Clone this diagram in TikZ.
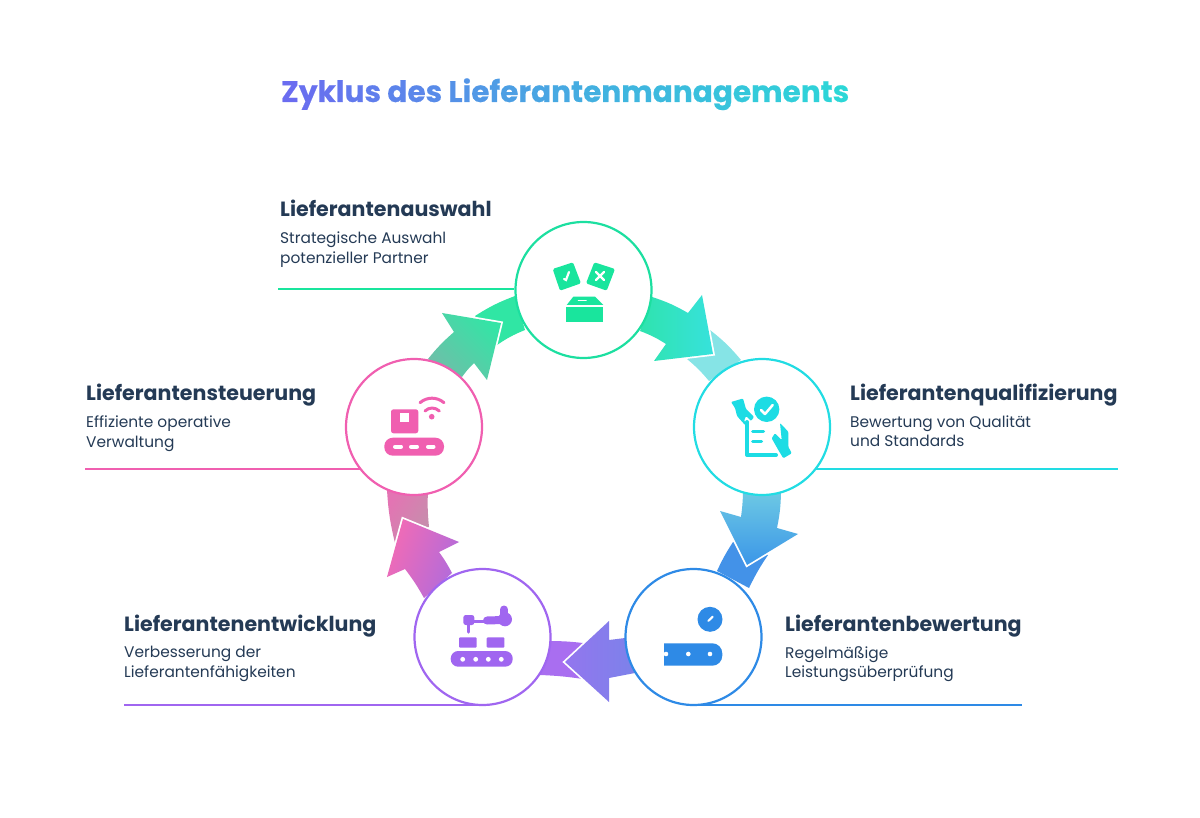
\documentclass[tikz,border=0pt]{standalone}
\usepackage{fontspec}
\setmainfont{Poppins}
\newfontfamily\titlefont[BoldFeatures={FakeBold=0.5}]{Poppins}
\definecolor{inkdark}{HTML}{243A55}
\definecolor{titlestart}{HTML}{6A6CF0}
\definecolor{titleend}{HTML}{2ED4D8}
\definecolor{stepgreen}{HTML}{1CDFA0}
\definecolor{stepcyan}{HTML}{22DCE3}
\definecolor{stepblue}{HTML}{2E8AE6}
\definecolor{steppurple}{HTML}{A066F0}
\definecolor{steppink}{HTML}{F05FB0}
\definecolor{iconcyan}{HTML}{1CDCE4}
\definecolor{icongreen}{HTML}{19E59D}
\definecolor{bandmint}{HTML}{2FE3AE}
\definecolor{bandaqua}{HTML}{37E2DC}
\definecolor{tailaqua}{HTML}{86E4E6}
\definecolor{bandsky}{HTML}{6CC8E4}
\definecolor{bandazure}{HTML}{3B96E8}
\definecolor{tailazure}{HTML}{4392E8}
\definecolor{bandviolet}{HTML}{9376EE}
\definecolor{bandperi}{HTML}{7C82EA}
\definecolor{tailviolet}{HTML}{A96EF0}
\definecolor{bandrose}{HTML}{F26BB5}
\definecolor{bandorchid}{HTML}{B06BDC}
\definecolor{taildust}{HTML}{C58FAC}
\definecolor{tailrose}{HTML}{E374B3}
\definecolor{bandsage}{HTML}{6EBFA8}
\definecolor{bandspring}{HTML}{34E4A6}
\definecolor{tailspring}{HTML}{30E6A4}
\tikzset{
  stepnode/.style={circle,draw,fill=white,line width=2.2pt,minimum size=136pt,inner sep=0pt},
  headlbl/.style={anchor=base west,inner sep=0pt,text=inkdark,font=\fontsize{20.6}{24}\selectfont\bfseries},
  sublbl/.style={anchor=base west,inner sep=0pt,text=inkdark,font=\fontsize{15.4}{20}\selectfont},
  leader/.style={line width=2pt},
  headband/.style={preaction={draw=white,line width=3.5pt,miter limit=10}},
}
\newcommand{\gradtitle}{\foreach[count=\n] \ch in {Z,y,k,l,u,s,{\ },d,e,s,{\ },L,i,e,f,e,r,a,n,t,e,n,m,a,n,a,g,e,m,e,n,t,s}{\pgfmathtruncatemacro{\pct}{100-(\n-1)*100/31}\textcolor{titlestart!\pct!titleend}{\ch}}}
\begin{document}
\begin{tikzpicture}[x=1pt,y=-1pt]
  \useasboundingbox (0,0) rectangle (1200,818);
  \node[anchor=base west,inner sep=0pt,font=\fontsize{29.6}{36}\selectfont\titlefont\bfseries] (title) at (281,102) {\gradtitle};
  % tails
  \fill[tailaqua] (710,330) to[bend left=6] (741,360) -- (709,381) to[bend right=5] (687,359) -- cycle;
  \fill[tailazure] (733,542) to[bend right=4] (717,571) -- (749,588) to[bend left=4] (768,555) -- cycle;
  \fill[tailviolet] (583,643) to[bend right=3] (550,641) -- (540,675) to[bend left=3] (583,679) -- cycle;
  \shade[left color=tailrose,right color=taildust,shading angle=60] (395,543) to[bend left=5] (387,490) -- (428,490) to[bend right=4] (429,527) -- cycle;
  \fill[tailspring] (475,316) to[bend left=6] (515,296) -- (525,330) to[bend right=6] (497,345) -- cycle;
  % arrows
  \shade[headband,left color=bandmint,right color=bandaqua] (652,297) to[bend left=6] (688,313) -- (702,295) -- (713,354) -- (654,361) -- (666,344) to[bend right=6] (640,331) -- cycle;
  \shade[headband,top color=bandsky,bottom color=bandazure] (781,493) to[bend left=5] (777,528) -- (798,534) -- (747,565) -- (720,511) -- (741,517) to[bend right=3] (743,493) -- cycle;
  \shade[headband,left color=bandviolet,right color=bandperi] (625,638) -- (609,640) -- (609,621) -- (565,662) -- (609,702) -- (609,678) -- (635,673) -- cycle;
  \shade[headband,left color=bandrose,right color=bandorchid,shading angle=70] (452,573) to[bend right=4] (439,552) -- (459,542) -- (403,519) -- (387,577) -- (405,569) to[bend left=4] (424,598) -- cycle;
  \shade[headband,left color=bandsage,right color=bandspring,shading angle=135] (428,359) to[bend left=5] (454,332) -- (442,313) -- (501,323) -- (487,380) -- (474,363) to[bend right=5] (462,377) -- cycle;
  % steps
  \node[stepnode,draw=stepgreen] (stepA) at (583.5,290) {};
  \node[stepnode,draw=stepcyan] (stepB) at (762,427) {};
  \node[stepnode,draw=stepblue] (stepC) at (693.5,637) {};
  \node[stepnode,draw=steppurple] (stepD) at (482.5,637) {};
  \node[stepnode,draw=steppink] (stepE) at (414,427) {};
  % leader lines
  \coordinate (endA) at (278,289);
  \coordinate (endB) at (1118,469);
  \coordinate (endC) at (1022,705);
  \coordinate (endD) at (124,705);
  \coordinate (endE) at (85,469);
  \draw[leader,icongreen] (endA) -- (stepA.west |- endA);
  \draw[leader,stepcyan] (stepB.-38 |- endB) -- (endB);
  \draw[leader,stepblue] (stepC.south |- endC) -- (endC);
  \draw[leader,steppurple] (endD) -- (stepD.south |- endD);
  \draw[leader,steppink] (endE) -- (stepE.218 |- endE);
  % labels
  \node[headlbl] (headA) at (280,217) {Lieferantenauswahl};
  \node[sublbl] (subAa) at (280,244) {Strategische Auswahl};
  \node[sublbl] (subAb) at (280,264) {potenzieller Partner};
  \node[headlbl] (headB) at (850,400) {Lieferantenqualifizierung};
  \node[sublbl] (subBa) at (850,427) {Bewertung von Qualität};
  \node[sublbl] (subBb) at (850,446) {und Standards};
  \node[headlbl] (headC) at (785,631) {Lieferantenbewertung};
  \node[sublbl] (subCa) at (785,658) {Regelmäßige};
  \node[sublbl] (subCb) at (785,677) {Leistungsüberprüfung};
  \node[headlbl] (headD) at (124,631) {Lieferantenentwicklung};
  \node[sublbl] (subDa) at (124,657) {Verbesserung der};
  \node[sublbl] (subDb) at (124,677) {Lieferantenfähigkeiten};
  \node[headlbl] (headE) at (86,400) {Lieferantensteuerung};
  \node[sublbl] (subEa) at (86,428) {Effiziente operative};
  \node[sublbl] (subEb) at (86,447) {Verwaltung};
  % icon green
  \fill[icongreen,rounded corners=1.5pt] (552.7,269) -- (573,262.3) -- (581,283.3) -- (560,290.7) -- cycle;
  \fill[icongreen,rounded corners=1.5pt] (594.3,262.3) -- (615,269) -- (606.7,290.7) -- (586,283.3) -- cycle;
  \draw[white,line width=2.2pt,line cap=round] (564,279) -- (566,280) -- (569,272);
  \draw[white,line width=2.4pt,line cap=round] (596,272) -- (604,280) (604,272) -- (596,280);
  \fill[icongreen] (573.3,296.7) -- (595,296.7) -- (603.3,305) -- (566.7,305) -- cycle;
  \draw[white,line width=1.6pt,line cap=round] (578.5,300.7) -- (586,300.7);
  \fill[icongreen] (566,307.3) rectangle (603.3,321.7);
  % icon cyan
  \fill[iconcyan] (766.7,409.3) circle[radius=12.7];
  \draw[white,line width=2.5pt,line cap=round,line join=round] (761,410) -- (765,414) -- (772.7,405);
  \draw[iconcyan,line width=4pt,line cap=round,line join=round] (747,422) -- (747,455) -- (776,455);
  \draw[iconcyan,line width=3pt,line cap=round] (752.5,431.7) -- (763.5,431.7) (752.5,441.7) -- (761.5,441.7);
  \fill[iconcyan,rounded corners=1pt] (731,402) -- (743,398.5) -- (746,409) -- (754,417) -- (751,421) -- (746,416) -- (744,421) -- (749,425) -- (745,425) -- (737,416) -- (735,408) -- cycle;
  \fill[iconcyan,rounded corners=1pt] (780,423) -- (788.3,431.7) -- (788.3,446.7) -- (791.7,453.3) -- (783.3,458.3) -- (778.3,450) -- (771.7,438.3) -- (775,433.3) -- (781.7,440) -- cycle;
  % icon blue
  \fill[stepblue] (710,619.3) circle[radius=12.5];
  \draw[white,line width=2pt,line cap=round] (708.3,621) -- (712.7,616.7);
  \fill[stepblue,rounded corners=10pt] (664,643.3) [sharp corners] -- (664,665.7) [rounded corners=10pt] -- (722.3,665.7) -- (722.3,643.3) [sharp corners] -- cycle;
  \fill[white] (666,654) circle[radius=2.3] (688.3,654) circle[radius=2.3] (710,654) circle[radius=2.3];
  % icon purple
  \fill[steppurple,rounded corners=7.5pt] (450.7,651) rectangle (512.7,666.7);
  \fill[white] (462.7,659.3) circle[radius=2.4] (475.7,659.3) circle[radius=2.4] (488.3,659.3) circle[radius=2.4] (501.3,659.3) circle[radius=2.4];
  \fill[steppurple,rounded corners=1pt] (459,637.3) rectangle (476.7,647.7) (486.7,637.3) rectangle (504.3,647.7);
  \fill[steppurple,rounded corners=2.5pt] (463.3,615) rectangle (474.3,625);
  \draw[steppurple,line width=3.5pt,line cap=round] (468.3,625) -- (468.3,632);
  \draw[steppurple,line width=3pt] (473,621.7) -- (486,621.7);
  \draw[steppurple,line width=8pt,line cap=round] (487,620.5) -- (503,620);
  \fill[steppurple] (505,619.3) circle[radius=7];
  \draw[steppurple,line width=8pt,line cap=round] (504,609.5) -- (504,617);
  % icon pink
  \fill[steppink,rounded corners=8.5pt] (384.3,437.7) rectangle (444,455.7);
  \draw[white,line width=4pt,line cap=round] (395,446.7) -- (401,446.7) (411,446.7) -- (417,446.7) (428,446.7) -- (433.5,446.7);
  \fill[steppink,rounded corners=2.5pt] (391,409.3) rectangle (418.3,433.3);
  \fill[white] (400,412.7) rectangle (409,421.7);
  \fill[steppink] (431.7,416.7) circle[radius=2.8];
  \draw[steppink,line width=3pt,line cap=round] (425,411) to[bend left=45] (439.3,411) (420,402.7) to[bend left=40] (444,402.7);
\end{tikzpicture}
\end{document}
